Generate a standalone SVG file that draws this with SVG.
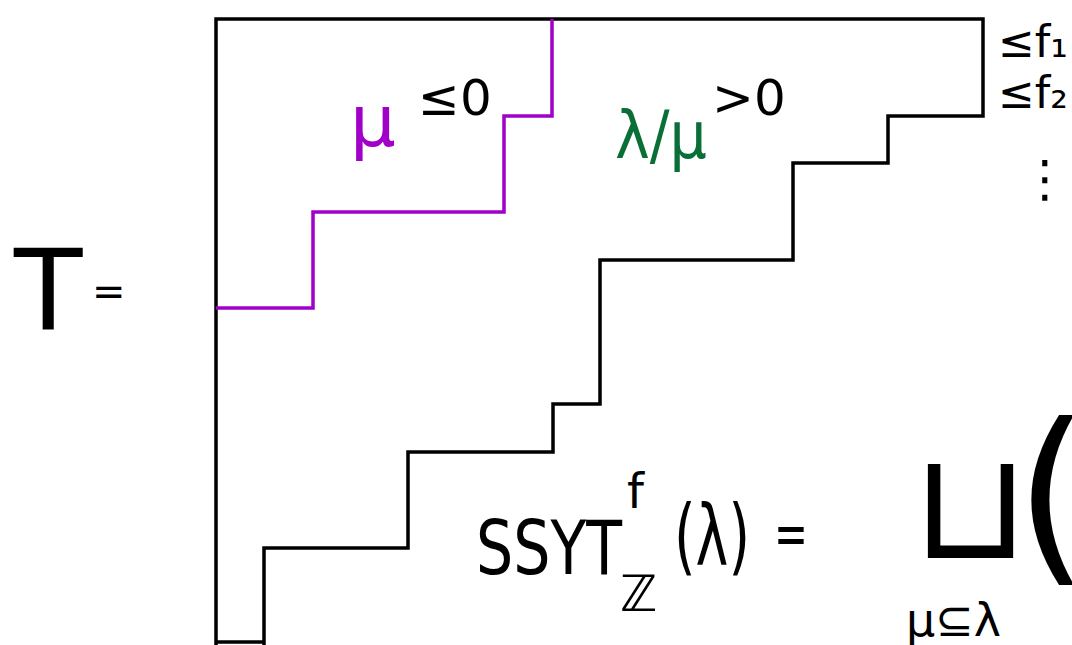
<svg xmlns="http://www.w3.org/2000/svg" width="1072" height="645" viewBox="0 0 1072 645">
<style>
.ln{fill:none;stroke:#000;stroke-width:3.5;stroke-linejoin:miter;stroke-linecap:butt}
.pu{fill:none;stroke:#a000c8;stroke-width:3.5}
.t{font-family:"DejaVu Sans","Liberation Sans",sans-serif;fill:#000}
</style>
<rect width="1072" height="645" fill="#fff"/>
<g id="shape">
<path class="ln" d="M216,645 V19 H983 V116 H888 V163 H793 V260 H600 V404 H553 V452 H408 V548 H264 V645"/>
<path class="ln" d="M216,642 H264"/>
</g>
<g id="mu-boundary">
<path class="pu" d="M552,19 V116 H504 V212 H313 V308 H216"/>
</g>
<g id="labels">
<text class="t" x="14" y="330" font-size="112" font-family="Liberation Sans">T</text>
<text class="t" x="92" y="305" font-size="40">=</text>
<text class="t" x="350" y="146" font-size="72" style="fill:#a000c8">μ</text>
<text class="t" x="418" y="115" font-size="50">≤0</text>
<text class="t" x="615" y="158" font-size="66" textLength="92" lengthAdjust="spacingAndGlyphs" style="fill:#0a6e37">λ/μ</text>
<text class="t" x="712" y="115" font-size="50">&gt;0</text>
<text class="t" x="998" y="57" font-size="44">≤f₁</text>
<text class="t" x="998" y="108" font-size="44">≤f₂</text>
<text class="t" x="1020" y="196" font-size="50">⋮</text>
<text class="t" x="476" y="574" font-size="74" textLength="146" lengthAdjust="spacingAndGlyphs">SSYT</text>
<text class="t" x="627" y="508" font-size="48">f</text>
<text class="t" x="620" y="611" font-size="50">ℤ</text>
<text class="t" x="674" y="565" font-size="84" textLength="76" lengthAdjust="spacingAndGlyphs">(λ)</text>
<text class="t" x="774" y="554" font-size="60" textLength="34" lengthAdjust="spacingAndGlyphs">=</text>
<text class="t" x="912" y="558" font-size="150">⊔</text>
<text class="t" x="1015" y="560" font-size="190">(</text>
<text class="t" x="906" y="636" font-size="46">μ⊆λ</text>
</g>
</svg>
